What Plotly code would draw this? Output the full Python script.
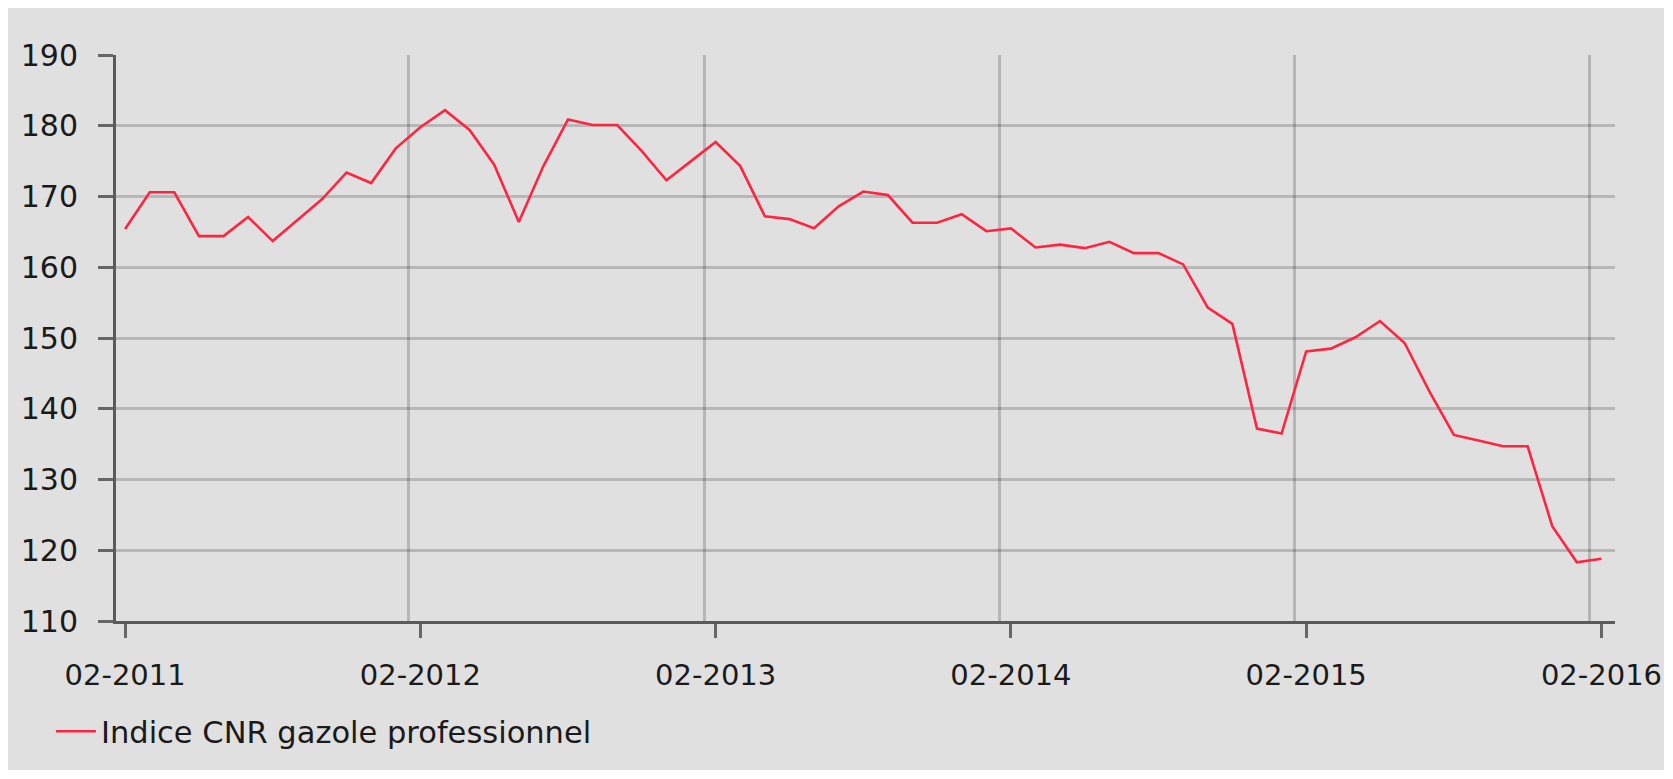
import plotly.graph_objects as go

# Monthly values, 02-2011 .. 02-2016
values = [
    165.4, 170.6, 170.6, 164.4, 164.4, 167.1, 163.7, 166.6, 169.6, 173.4, 171.9, 176.8,
    179.8, 182.2, 179.4, 174.5, 166.4, 174.3, 180.9, 180.1, 180.1, 176.4, 172.3, 175.0,
    177.7, 174.3, 167.2, 166.8, 165.5, 168.6, 170.7, 170.2, 166.3, 166.3, 167.5, 165.1,
    165.5, 162.8, 163.2, 162.7, 163.6, 162.0, 162.0, 160.4, 154.3, 152.0, 137.2, 136.5,
    148.1, 148.5, 150.1, 152.4, 149.3, 142.5, 136.3, 135.5, 134.7, 134.7, 123.4, 118.3,
    118.8,
]
tick_labels = ["02-2011", "02-2012", "02-2013", "02-2014", "02-2015", "02-2016"]
series_name = "Indice CNR gazole professionnel"

months = list(range(len(values)))
tick_vals = [12 * k for k in range(len(tick_labels))]
grid_vals = [t - 0.47 for t in tick_vals[1:]]

BG = "#e0e0e0"
FONT = "DejaVu Sans"
RED = "#ff2440"

fig = go.Figure()
fig.add_trace(go.Scatter(
    x=months, y=values, mode="lines", name=series_name,
    line=dict(color=RED, width=2.6),
))

fig.update_layout(
    width=1656, height=762,
    paper_bgcolor=BG, plot_bgcolor=BG,
    margin=dict(l=108, r=49, t=47, b=149, autoexpand=False),
    font=dict(family=FONT, size=29, color="#1a1a1a"),
    showlegend=True,
    legend=dict(
        x=-0.0434, y=-0.195, xanchor="left", yanchor="middle",
        orientation="h", bgcolor="rgba(0,0,0,0)", itemwidth=40,
        font=dict(family=FONT, size=30.5, color="#1a1a1a"),
    ),
    xaxis=dict(
        range=[-0.37, 60.55], automargin=False,
        tickvals=tick_vals, ticktext=tick_labels,
        tickfont=dict(family=FONT, size=29, color="#1a1a1a"),
        showgrid=False, zeroline=False,
        showline=True, linecolor="#5a5a5a", linewidth=3,
        ticks="outside", ticklen=14, tickwidth=3, tickcolor="#666666",
        ticklabelstandoff=12,
        minor=dict(tickvals=grid_vals, showgrid=True,
                   gridcolor="rgba(0,0,0,0.19)", gridwidth=2.5, ticks=""),
    ),
    yaxis=dict(
        range=[110, 190], dtick=10, tick0=110, automargin=False,
        tickfont=dict(family=FONT, size=30, color="#1a1a1a"),
        showgrid=True, gridcolor="rgba(0,0,0,0.18)", gridwidth=2.5,
        zeroline=False,
        showline=True, linecolor="#5a5a5a", linewidth=3,
        ticks="outside", ticklen=15, tickwidth=3, tickcolor="#666666",
        ticklabelstandoff=14,
    ),
)

fig.write_html("out.html")
